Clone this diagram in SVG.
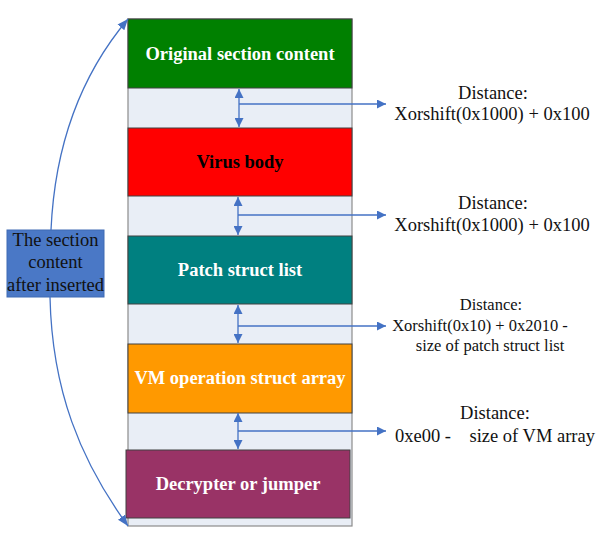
<svg xmlns="http://www.w3.org/2000/svg" width="600" height="533" viewBox="0 0 600 533">
<defs>
<marker id="ah" viewBox="0 0 10 10" refX="10" refY="5" markerWidth="9" markerHeight="9" markerUnits="userSpaceOnUse" orient="auto-start-reverse">
<path d="M0,0 L10,5 L0,10 z" fill="#4472C4"/>
</marker>
<marker id="ah2" viewBox="0 0 10 10" refX="10" refY="5" markerWidth="11" markerHeight="11" markerUnits="userSpaceOnUse" orient="auto">
<path d="M0,1 L10,5 L0,9 z" fill="#4472C4"/>
</marker>
</defs>
<style>
.blk{stroke:#404040;stroke-width:1}
.bt{font-family:"Liberation Serif","DejaVu Serif","Times New Roman",serif;font-weight:bold;font-size:18.5px;text-anchor:middle;fill:#fff}
.lt{font-family:"Liberation Serif","DejaVu Serif","Times New Roman",serif;font-size:18.5px;text-anchor:middle;fill:#111}
.con{stroke:#4472C4;stroke-width:1.3;fill:none}
</style>
<rect x="0" y="0" width="600" height="533" fill="#fff"/>
<g id="column">
<rect x="128" y="19" width="224" height="507" fill="#E9EEF6" stroke="#8c8c8c" stroke-width="1.2"/>
</g>
<g id="n-original"><rect class="blk" x="128" y="19" width="224" height="69" fill="#008000"/><text class="bt" x="240" y="59.5">Original section content</text></g>
<g id="n-virus"><rect class="blk" x="128" y="128" width="224" height="68" fill="#FF0000"/><text class="bt" x="240" y="167.5" style="fill:#000">Virus body</text></g>
<g id="n-patch"><rect class="blk" x="128" y="236" width="224" height="68" fill="#008080"/><text class="bt" x="240" y="275.5">Patch struct list</text></g>
<g id="n-vm"><rect class="blk" x="128" y="344" width="224" height="69" fill="#FF9900"/><text class="bt" x="240" y="384">VM operation struct array</text></g>
<g id="n-decrypter"><rect class="blk" x="126" y="450" width="224" height="68" fill="#993366"/><text class="bt" x="238" y="490">Decrypter or jumper</text></g>
<g id="n-label"><rect x="7" y="230" width="97" height="67" fill="#4A78C6" stroke="#3F6AB3" stroke-width="1"/>
<text class="lt" x="55.5" y="246">The section</text>
<text class="lt" x="55.5" y="268">content</text>
<text class="lt" x="55.5" y="291">after inserted</text></g>
<g id="connectors">
<path class="con" d="M51,230 C55,140 85,70 128,19" marker-end="url(#ah2)"/>
<path class="con" d="M50,297 C52,390 80,460 128,526" marker-end="url(#ah2)"/>
<line class="con" x1="239" y1="89" x2="239" y2="127" marker-start="url(#ah)" marker-end="url(#ah)"/>
<line class="con" x1="239" y1="104" x2="386" y2="104" marker-end="url(#ah)"/>
<line class="con" x1="238" y1="197" x2="238" y2="235" marker-start="url(#ah)" marker-end="url(#ah)"/>
<line class="con" x1="238" y1="215" x2="386" y2="215" marker-end="url(#ah)"/>
<line class="con" x1="238" y1="305" x2="238" y2="343" marker-start="url(#ah)" marker-end="url(#ah)"/>
<line class="con" x1="238" y1="326" x2="386" y2="326" marker-end="url(#ah)"/>
<line class="con" x1="238" y1="413" x2="238" y2="449" marker-start="url(#ah)" marker-end="url(#ah)"/>
<line class="con" x1="238" y1="431" x2="386" y2="431" marker-end="url(#ah)"/>
</g>
<g id="labels">
<text class="lt" x="493" y="99">Distance:</text>
<text class="lt" x="492" y="120">Xorshift(0x1000) + 0x100</text>
<text class="lt" x="493" y="209">Distance:</text>
<text class="lt" x="492" y="231">Xorshift(0x1000) + 0x100</text>
<text class="lt" x="491" y="310" style="font-size:16.5px">Distance:</text>
<text class="lt" x="480" y="331" style="font-size:16.5px">Xorshift(0x10) + 0x2010 -</text>
<text class="lt" x="490" y="351" style="font-size:16.5px">size of patch struct list</text>
<text class="lt" x="495" y="419">Distance:</text>
<text class="lt" x="395" y="442" style="text-anchor:start">0xe00 -</text>
<text class="lt" x="595" y="442" style="text-anchor:end">size of VM array</text>
</g>
</svg>
